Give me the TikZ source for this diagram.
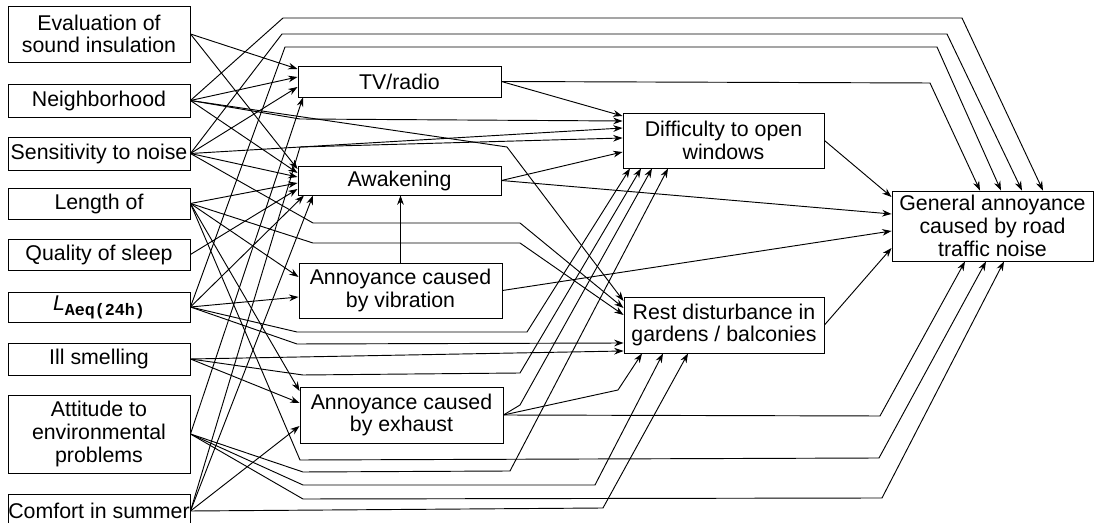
\documentclass[tikz,border=0pt]{standalone}
\usepackage{fontspec}
\setmainfont{Liberation Sans}
\newfontfamily\submono{Liberation Mono}
\usetikzlibrary{arrows.meta}
\tikzset{every picture/.style={line width=0.7pt}}

\begin{document}
\begin{tikzpicture}[x=0.75pt,y=0.75pt,yscale=-1,xscale=1,
  box/.style={draw, rectangle, inner sep=0pt, align=center, font=\fontsize{16}{17}\selectfont},
  lbox/.style={box, minimum width=136.5pt},
  mbox/.style={box, minimum width=152.25pt},
  con/.style={-{Stealth[length=7pt,width=5pt]}}]
\useasboundingbox (0,0) rectangle (1101,523);

% Text Node
\node[lbox, minimum height=42pt] (eval) at (99,34) {Evaluation of\\sound insulation};
% Text Node
\node[lbox, minimum height=24.75pt] (neigh) at (99,100.5) {Neighborhood};
% Text Node
\node[lbox, minimum height=24.75pt] (sens) at (99,153.5) {Sensitivity to noise};
% Text Node
\node[lbox, minimum height=23.25pt] (length) at (99,203.5) {Length of};
% Text Node
\node[lbox, minimum height=23.25pt] (sleep) at (99,254.5) {Quality of sleep};
% Text Node
\node[lbox, minimum height=22.5pt] (laeq) at (99,307) {\textit{L}\raisebox{-0.45ex}{\submono\bfseries\fontsize{12.5}{12.5}\selectfont Aeq(24h)}};
% Text Node
\node[lbox, minimum height=24pt] (smell) at (99,359) {Ill smelling};
% Text Node
\node[lbox, minimum height=58.5pt] (attit) at (99,434) {Attitude to\\environmental\\problems};
% Text Node
\node[lbox, minimum height=25.5pt] (comfort) at (99,511) {Comfort in summer};

% Text Node
\node[mbox, minimum height=23.25pt] (tv) at (399.5,81.5) {TV/radio};
% Text Node
\node[mbox, minimum height=21.75pt] (awake) at (399.5,180.5) {Awakening};
% Text Node
\node[mbox, minimum height=41.25pt] (vibr) at (400.5,290.5) {Annoyance caused\\by vibration};
% Text Node
\node[mbox, minimum height=42pt] (exh) at (401.5,415) {Annoyance caused\\by exhaust};
% Text Node
\node[box, minimum width=150.75pt, minimum height=41.25pt] (window) at (723.5,140.5) {Difficulty to open\\windows};
% Text Node
\node[box, minimum width=150pt, minimum height=42pt] (rest) at (724,325) {Rest disturbance in\\gardens / balconies};
% Text Node
\node[box, minimum width=150.75pt, minimum height=52.5pt] (general) at (992.5,226) {General annoyance\\caused by road\\traffic noise};

% Connection
\draw[con] (eval.east) -- (tv.west |- 0,69);
% Connection
\draw[con] (neigh.east) -- (tv.west |- 0,77);
% Connection
\draw[con] (sens.east) -- (tv.west |- 0,87);
% Connection
\draw[con] (attit.east) -- (tv.south -| 303,0);
% Connection
\draw[con] (eval.east) -- (awake.west |- 0,169);
% Connection
\draw[con] (neigh.east) -- (awake.west |- 0,173);
% Connection
\draw[con] (sens.east) -- (awake.west |- 0,177);
% Connection
\draw[con] (length.east) -- (awake.west |- 0,183);
% Connection
\draw[con] (sleep.east) -- (awake.west |- 0,189);
% Connection
\draw[con] (laeq.east) -- (awake.south -| 304,0);
% Connection
\draw[con] (comfort.east) -- (awake.south -| 313,0);
% Connection
\draw[con] (vibr.north) -- (vibr.north |- awake.south);
% Connection
\draw[con] (length.east) -- (vibr.west |- 0,277);
% Connection
\draw[con] (laeq.east) -- (vibr.west |- 0,297);
% Connection
\draw[con] (length.east) -- (exh.west |- 0,391);
% Connection
\draw[con] (smell.east) -- (exh.west |- 0,403);
% Connection
\draw[con] (comfort.east) -- (exh.west |- 0,426);
% Connection
\draw[con] (tv.east) -- (window.west |- 0,116);
% Connection
\draw[con] (neigh.east) -- (300,119) -- (window.west |- 0,121);
% Connection
\draw[con] (sens.east) -- (window.west |- 0,128);
% Connection
\draw[con] (comfort.east) -- (300,147) -- (window.west |- 0,138);
% Connection
\draw[con] (awake.east) -- (window.west |- 0,152);
% Connection
\draw[con] (laeq.east) -- (297,332) -- (527,332) -- (window.south -| 630,0);
% Connection
\draw[con] (smell.east) -- (303,375) -- (520,373) -- (window.south -| 641,0);
% Connection
\draw[con] (exh.east) -- (520,405) -- (window.south -| 652,0);
% Connection
\draw[con] (attit.east) -- (303,472) -- (510,471) -- (window.south -| 668,0);
% Connection
\draw[con] (neigh.east) -- (507,147) -- (rest.west |- 0,301);
% Connection
\draw[con] (sens.east) -- (313,223) -- (520,223) -- (rest.west |- 0,308);
% Connection
\draw[con] (length.east) -- (313,243) -- (520,243) -- (rest.west |- 0,315);
% Connection
\draw[con] (laeq.east) -- (297,344) -- (rest.west |- 0,343);
% Connection
\draw[con] (smell.east) -- (rest.west |- 0,351);
% Connection
\draw[con] (exh.east) -- (618,390) -- (rest.south -| 642,0);
% Connection
\draw[con] (attit.east) -- (303,485) -- (595,485) -- (rest.south -| 663,0);
% Connection
\draw[con] (comfort.east) -- (603,508) -- (rest.south -| 688,0);
% Connection
\draw[con] (window.east) -- (general.west |- 0,197);
% Connection
\draw[con] (awake.east) -- (general.west |- 0,214);
% Connection
\draw[con] (vibr.east) -- (general.west |- 0,231);
% Connection
\draw[con] (rest.east) -- (general.west |- 0,248);
% Connection
\draw[con] (tv.east) -- (930,83) -- (general.north -| 980,0);
% Connection
\draw[con] (laeq.east) -- (285,47) -- (937,47) -- (general.north -| 1001,0);
% Connection
\draw[con] (sens.east) -- (282,34) -- (947,34) -- (general.north -| 1022,0);
% Connection
\draw[con] (neigh.east) -- (283,18) -- (962,18) -- (general.north -| 1043,0);
% Connection
\draw[con] (exh.east) -- (880,416) -- (general.south -| 965,0);
% Connection
\draw[con] (length.east) -- (300,460) -- (879,458) -- (general.south -| 986,0);
% Connection
\draw[con] (attit.east) -- (303,499) -- (882,498) -- (general.south -| 1004,0);

\end{tikzpicture}
\end{document}
